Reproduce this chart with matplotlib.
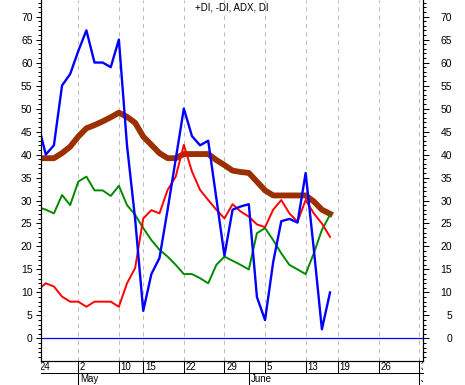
import numpy as np
import matplotlib
matplotlib.use("Agg")
import matplotlib.pyplot as plt
from matplotlib.ticker import MultipleLocator
from matplotlib.transforms import Bbox, TransformedBbox

# trading-day index, 0 = May 2
days = np.arange(-5, 32)

plus_di = [10.5, 12, 11.3, 9.1, 8, 8, 6.9, 8, 8, 8, 6.9, 12, 15.3, 26.1, 27.9, 27.2,
           32.3, 35.2, 42.1, 36.3, 32.3, 30.1, 28, 26.1, 29.2, 27.6, 26.5, 24.8, 24.2,
           28, 30.1, 27.2, 25.4, 30.1, 27.2, 25, 22.1]
minus_di = [28.6, 28, 27.2, 31.2, 29, 34.1, 35.2, 32.2, 32.2, 31, 33.2, 29, 26.9, 24,
            21.4, 19.3, 17.8, 16, 14, 14, 13.1, 12, 16, 17.8, 16.9, 16, 15, 22.9, 24,
            21.4, 18.5, 16, 15, 14, 18.5, 23.6, 26.9]
adx = [39.2, 39.2, 39.2, 40.3, 41.7, 43.9, 45.7, 46.4, 47.2, 48.1, 49.1, 48.2, 46.9,
       43.9, 42.1, 40.3, 39.2, 39.2, 40.1, 40.1, 40.1, 40.1, 38.8, 37.7, 36.5, 36.2,
       36, 34.1, 32.2, 31.1, 31.1, 31.1, 31.1, 31.1, 29.8, 28, 27.1]
di = [47, 40, 42, 55, 57.5, 62.5, 67, 60, 60, 59, 65, 42, 26, 6, 14, 17.5, 28, 39, 50,
      44, 42, 43, 30.5, 18, 28, 28.7, 29.2, 9, 4, 16.6, 25.5, 26, 25.2, 36, 19.5, 2, 10]

date_idx = [-5, 0, 5, 8, 13, 18, 23, 28, 32, 37, 42]
date_lbl = ['24', '2', '10', '15', '22', '29', '5', '13', '19', '26', '3']
month_idx = [0, 21, 42]
month_lbl = ['May', 'June', 'July']

plt.rcParams['font.family'] = ['Liberation Sans', 'DejaVu Sans']

W, H = 465, 385
fig = plt.figure(figsize=(W / 100, H / 100), dpi=100)
ax = fig.add_axes([41 / W, 24 / H, (423 - 41) / W, 361 / H])
xmin, xmax = -4.59, 42.45
ymin, ymax = -4.9, 73.6
ax.set_xlim(xmin, xmax)
ax.set_ylim(ymin, ymax)

# vertical dashed grid at date ticks
for d in date_idx:
    ax.axvline(d, color='#bdbdbd', lw=0.75, ls=(0, (4, 4)), zorder=1)

ax.axhline(0, color='#0000ff', lw=0.9, zorder=2)
ax.plot(days, adx, color='#9c2f00', lw=4.2, solid_joinstyle='round', zorder=3)
ax.plot(days, minus_di, color='#008a00', lw=1.4, zorder=4)
ax.plot(days, plus_di, color='#ff0000', lw=1.4, zorder=5)
ax.plot(days, di, color='#0000ff', lw=1.7, zorder=6)

ax.text(0.5, 1 - 8 / 361, '+DI, -DI, ADX, DI', transform=ax.transAxes,
        ha='center', va='center', fontsize=7)

# spines / y ticks
ax.spines['top'].set_visible(False)
ax.set_xticks([])
ax.yaxis.set_major_locator(MultipleLocator(5))
ax.yaxis.set_minor_locator(MultipleLocator(1))
ax.set_yticks(range(0, 71, 5))
ax.tick_params(axis='y', which='major', length=3.6, width=0.75, pad=2.5, labelsize=7.5)
ax.tick_params(axis='y', which='minor', length=2, width=0.75)

ax2 = ax.twinx()
ax2.set_ylim(ymin, ymax)
ax2.spines['top'].set_visible(False)
ax2.yaxis.set_minor_locator(MultipleLocator(1))
ax2.set_yticks(range(0, 71, 5))
ax2.tick_params(axis='y', which='major', length=4.3, width=0.75, pad=16.5, labelsize=7.5)
ax2.tick_params(axis='y', which='minor', length=2.2, width=0.75)
plt.setp(ax2.get_yticklabels(), ha='right')

# date rows under the plot
tr = ax.get_xaxis_transform()
row1 = -12 / 361
row2 = -24 / 361
ax.plot([0, 1], [row1, row1], color='black', lw=0.75, transform=ax.transAxes, clip_on=False)
clip = TransformedBbox(Bbox.from_extents(0, -1, 1, 1), ax.transAxes)
for d, lbl in zip(date_idx, date_lbl):
    if xmin <= d <= xmax:
        ax.plot([d, d], [row1, 0], color='black', lw=0.75, transform=tr, clip_on=False)
    t = ax.text(d + 0.2, row1 / 2, lbl, transform=tr, ha='left', va='center', fontsize=7)
    t.set_clip_box(clip)
    t.set_clip_on(True)
for m, lbl in zip(month_idx, month_lbl):
    if xmin <= m <= xmax:
        ax.plot([m, m], [row2, 0], color='black', lw=0.75, transform=tr, clip_on=False)
    t = ax.text(m + 0.2, (row1 + row2) / 2, lbl, transform=tr, ha='left', va='center', fontsize=7)
    t.set_clip_box(clip)
    t.set_clip_on(True)

fig.savefig('out.png', dpi=100)
